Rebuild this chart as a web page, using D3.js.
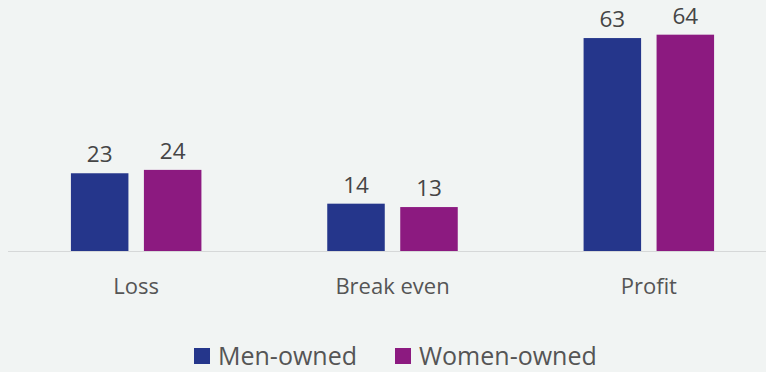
<!DOCTYPE html>
<html>
<head>
<meta charset="utf-8">
<script src="https://cdn.jsdelivr.net/npm/d3@7"></script>
<style>
  html, body { margin: 0; padding: 0; background: #f1f4f3; }
  svg { display: block; }
  text { font-family: "Open Sans", "Noto Sans", sans-serif; }
</style>
</head>
<body>
<svg id="chart" width="766" height="372"></svg>
<script>
// Share of businesses by financial outcome (%)
const categories = ["Loss", "Break even", "Profit"];
const seriesNames = ["Men-owned", "Women-owned"];
const menOwned = [23, 14, 63];
const womenOwned = [24, 13, 64];
const colors = ["#25368b", "#8c1a80"];

const W = 766, H = 372;
const baseY = 251;
const groupW = 130.5;
const svg = d3.select("#chart");

const x0 = d3.scaleBand().domain(categories).range([8, 777]).paddingInner(0).paddingOuter(0);
const x1 = d3.scaleBand().domain(seriesNames).range([0, groupW]).paddingInner(0.212);
const groupOffset = (x0.bandwidth() - groupW) / 2;
const y = d3.scaleLinear().domain([0, 100]).range([baseY, baseY - 338]);

const rows = categories.map((c, i) => ({
  cat: c,
  vals: [
    { s: seriesNames[0], v: menOwned[i], c: colors[0] },
    { s: seriesNames[1], v: womenOwned[i], c: colors[1] }
  ]
}));

// baseline
svg.append("line")
  .attr("x1", 8).attr("x2", W)
  .attr("y1", baseY + 0.5).attr("y2", baseY + 0.5)
  .attr("stroke", "#d6d8d8").attr("stroke-width", 1);

const g = svg.selectAll("g.grp").data(rows).join("g")
  .attr("class", "grp")
  .attr("transform", d => `translate(${x0(d.cat) + groupOffset},0)`);

g.selectAll("rect").data(d => d.vals).join("rect")
  .attr("x", d => x1(d.s))
  .attr("width", x1.bandwidth())
  .attr("y", d => y(d.v))
  .attr("height", d => baseY - y(d.v))
  .attr("fill", d => d.c);

g.selectAll("text.val").data(d => d.vals).join("text")
  .attr("class", "val")
  .attr("x", d => x1(d.s) + x1.bandwidth() / 2)
  .attr("y", d => y(d.v) - 11)
  .attr("text-anchor", "middle")
  .attr("font-size", 22.5)
  .attr("fill", "#454545")
  .text(d => d.v);

// category axis labels
const axis = d3.axisBottom(x0).tickSize(0).tickPadding(0);
const ax = svg.append("g").attr("transform", `translate(0,${baseY})`).call(axis);
ax.select(".domain").remove();
ax.selectAll("text")
  .attr("dy", null)
  .attr("y", 43)
  .attr("font-size", 22)
  .style("font-family", "'Open Sans', 'Noto Sans', sans-serif")
  .style("fill", "#555");

// legend
const legendItems = [
  { name: seriesNames[0], c: colors[0], x: 194 },
  { name: seriesNames[1], c: colors[1], x: 395 }
];
const lg = svg.selectAll("g.leg").data(legendItems).join("g")
  .attr("class", "leg")
  .attr("transform", d => `translate(${d.x},348)`);
lg.append("rect").attr("width", 16).attr("height", 16).attr("fill", d => d.c);
lg.append("text").attr("x", 24).attr("y", 17).attr("font-size", 25)
  .attr("fill", "#555").text(d => d.name);
</script>
</body>
</html>
